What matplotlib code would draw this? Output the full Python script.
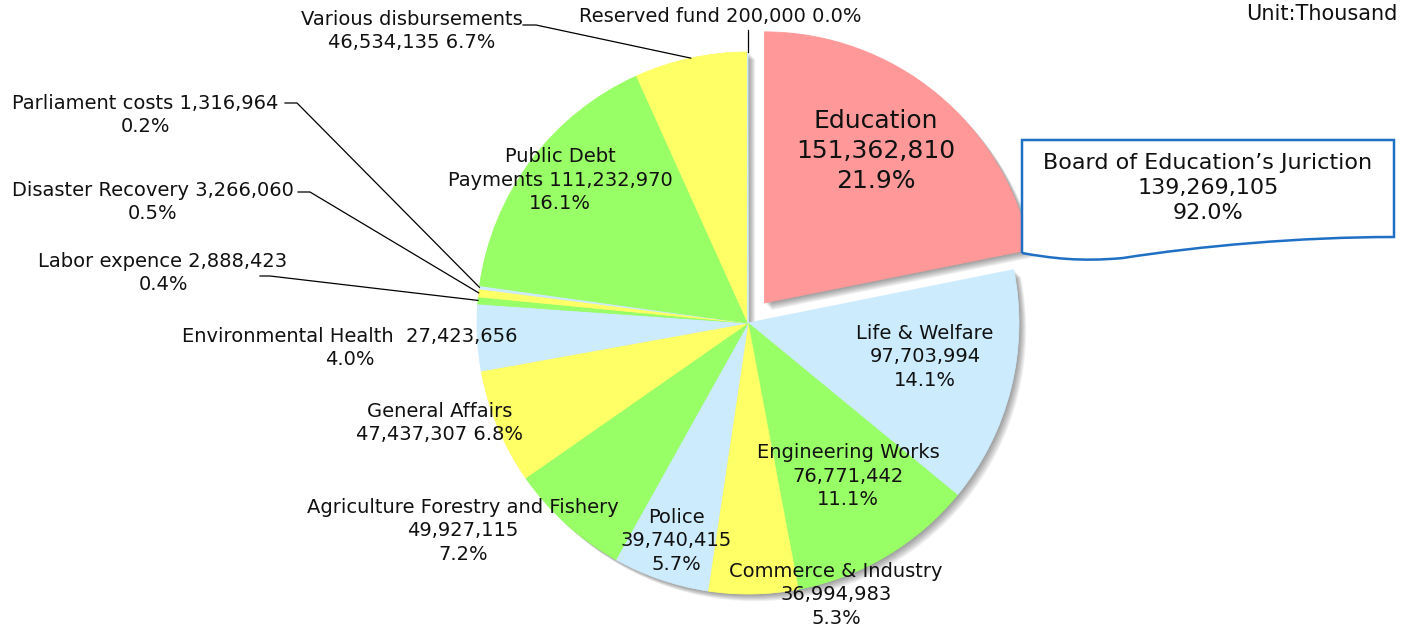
import numpy as np
import matplotlib.pyplot as plt
from matplotlib.path import Path
from matplotlib.patches import PathPatch

plt.rcParams['font.family'] = ['DejaVu Sans']

# data (unit: thousand)
categories = ["Education", "Life & Welfare", "Engineering Works", "Commerce & Industry",
              "Police", "Agriculture Forestry and Fishery", "General Affairs",
              "Environmental Health", "Labor expence", "Disaster Recovery",
              "Parliament costs", "Public Debt Payments", "Various disbursements",
              "Reserved fund"]
amounts = [151362810, 97703994, 76771442, 36994983, 39740415, 49927115, 47437307,
           27423656, 2888423, 3266060, 1316964, 111232970, 46534135, 200000]
percents = [21.9, 14.1, 11.1, 5.3, 5.7, 7.2, 6.8, 4.0, 0.4, 0.5, 0.2, 16.1, 6.7, 0.0]
board_name = "Board of Education\u2019s Juriction"
board_amount = 139269105
board_percent = 92.0

colors = ["#FF9999"] + ["#CCEBFC", "#99FF66", "#FFFF66"] * 4 + ["#CCEBFC"]
colors = colors[:len(amounts)]

W, H = 1401, 632
def P(x, y):
    # pixel position (from top-left) -> axes coords
    return x, H - y

fig = plt.figure(figsize=(W / 100, H / 100), dpi=100)
ax = fig.add_axes([0, 0, 1, 1])

cx, cy = P(748, 323)
R = 271
explode = [0.096 * R] + [0] * (len(amounts) - 1)

# soft drop shadow
for i in range(1, 9):
    ax.pie(amounts, colors=["k"] * len(amounts), startangle=90, counterclock=False,
           center=(cx + i * 0.9, cy - i * 0.9), radius=R, explode=explode,
           wedgeprops=dict(linewidth=0, alpha=0.055))

wedges, _ = ax.pie(amounts, colors=colors, startangle=90, counterclock=False,
                   center=(cx, cy), radius=R, explode=explode,
                   wedgeprops=dict(linewidth=0.6))
for w in wedges:
    w.set_edgecolor(w.get_facecolor())

# slice mid angles for leader lines
fr = np.array(amounts) / sum(amounts)
mid = 90 - 360 * (np.cumsum(fr) - fr / 2)
def edge(i):
    a = np.deg2rad(mid[i])
    return cx + R * np.cos(a), cy + R * np.sin(a)

fs = 14
ls = 1.3
def lab(i, fmt, x, y, **kw):
    s = fmt.format(n=categories[i], a=f"{amounts[i]:,}", p=f"{percents[i]:.1f}%")
    ax.text(*P(x, y), s, ha="center", va="center", fontsize=kw.pop("size", fs),
            linespacing=ls, color="#111111", **kw)

lab(0, "{n}\n{a}\n{p}", 876, 151, size=18)
lab(1, "{n}\n{a}\n{p}", 925, 357)
lab(2, "{n}\n{a}\n{p}", 848, 476)
lab(3, "{n}\n{a}\n{p}", 836, 595)
lab(4, "{n}\n{a}\n{p}", 676, 541)
lab(5, "{n}\n{a}\n{p}", 463, 531)
lab(6, "{n}\n{a} {p}", 440, 423)
lab(7, "{n}  {a}\n{p}", 350, 348)
lab(8, "{n} {a}\n{p}", 163, 273)
lab(9, "{n} {a}\n{p}", 153, 202)
lab(10, "{n} {a}\n{p}", 145, 115)
lab(11, "Public Debt\nPayments {a}\n{p}", 560, 180)
lab(12, "{n}\n{a} {p}", 412, 31)
lab(13, "{n} {a} {p}", 720, 17)

ax.text(*P(1398, 14), "Unit:Thousand", ha="right", va="center", fontsize=15, color="#111111")

# leader lines
lines = {12: [(523, 25), (536, 25)], 10: [(285, 103), (297, 103)],
         9: [(298, 192), (310, 192)], 8: [(260, 276), (270, 276)]}
for i, pts in lines.items():
    xs = [P(*p)[0] for p in pts] + [edge(i)[0]]
    ys = [P(*p)[1] for p in pts] + [edge(i)[1]]
    ax.plot(xs, ys, color="k", lw=0.9)
ex, ey = edge(13)
ax.plot([ex, ex], [P(0, 30)[1], ey], color="k", lw=0.9)

# callout box for the board of education share
verts = [P(1022, 253), P(1022, 140), P(1394, 140), P(1394, 237),
         P(1300, 237), P(1200, 246), P(1123, 258),
         P(1080, 262), P(1050, 258), P(1022, 253)]
codes = [Path.MOVETO, Path.LINETO, Path.LINETO, Path.LINETO,
         Path.CURVE4, Path.CURVE4, Path.CURVE4,
         Path.CURVE4, Path.CURVE4, Path.CURVE4]
ax.add_patch(PathPatch(Path(verts, codes), facecolor="white", edgecolor="#1F6FC5", lw=1.8))
ax.text(*P(1208, 188), f"{board_name}\n{board_amount:,}\n{board_percent:.1f}%",
        ha="center", va="center", fontsize=16, linespacing=ls, color="#111111")

ax.set_xlim(0, W)
ax.set_ylim(0, H)
ax.set_aspect("equal")
ax.axis("off")

plt.savefig("out.png", dpi=100)
